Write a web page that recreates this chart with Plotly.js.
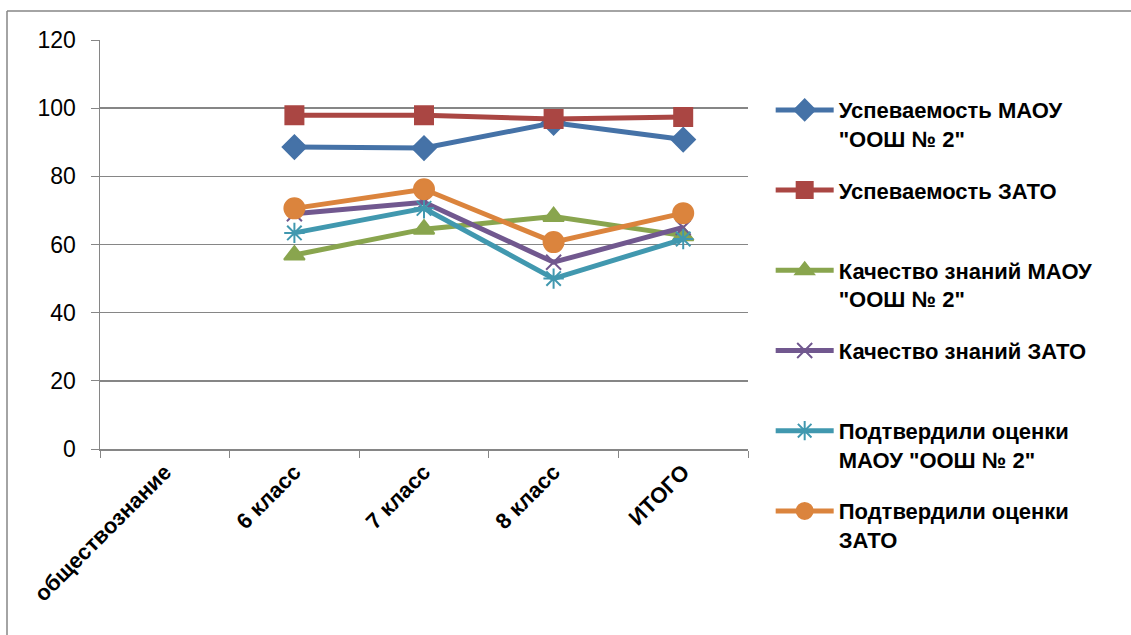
<!DOCTYPE html>
<html>
<head>
<meta charset="utf-8">
<script src="https://cdn.plot.ly/plotly-3.0.1.min.js"></script>
<style>html,body{margin:0;padding:0;background:#fff;overflow:hidden;}#chart{width:1131px;height:635px;}</style>
</head>
<body>
<div id="chart"></div>
<script>
var categories = ["обществознание", "6 класс", "7 класс", "8 класс", "ИТОГО"];
var seriesNames = [
  "Успеваемость МАОУ<br>\"ООШ № 2\"",
  "Успеваемость ЗАТО<br>\u00a0",
  "Качество знаний МАОУ<br>\"ООШ № 2\"",
  "Качество знаний ЗАТО<br>\u00a0",
  "Подтвердили оценки<br>МАОУ \"ООШ № 2\"",
  "Подтвердили оценки<br>ЗАТО"
];
var uspevMAOU = [null, 88.6, 88.3, 95.7, 90.8];
var uspevZATO = [null, 97.9, 97.9, 96.8, 97.4];
var kachMAOU = [null, 56.9, 64.5, 68.2, 62.6];
var kachZATO = [null, 69.0, 72.4, 54.8, 65.0];
var podtvMAOU = [null, 63.4, 70.6, 50.0, 61.6];
var podtvZATO = [null, 70.6, 76.2, 60.7, 69.2];

var seriesValues = [uspevMAOU, uspevZATO, kachMAOU, kachZATO, podtvMAOU, podtvZATO];
var colors = ["#4572A7", "#AA4643", "#89A54E", "#71588F", "#4198AF", "#DB843D"];
var symbols = ["diamond", "square", "triangle-up", "x-thin-open", "asterisk-open", "circle"];
var sizes = [18, 18, 18, 15, 17, 20];

var traces = seriesValues.map(function (vals, i) {
  return {
    type: "scatter",
    mode: "lines+markers",
    x: categories,
    y: vals,
    name: seriesNames[i],
    legendgroup: "g" + i,
    line: {color: colors[i], width: 5},
    marker: {symbol: symbols[i], size: sizes[i], color: colors[i], line: {color: colors[i], width: 2}},
    connectgaps: false
  };
});

var layout = {
  width: 1131,
  height: 635,
  margin: {l: 100, r: 383, t: 40, b: 186},
  paper_bgcolor: "#ffffff",
  plot_bgcolor: "#ffffff",
  font: {family: "Liberation Sans, Arial, sans-serif", color: "#000000"},
  showlegend: true,
  xaxis: {
    type: "category",
    range: [-0.5, 4.5],
    showline: true,
    linecolor: "#868686",
    linewidth: 1.5,
    ticks: "outside",
    tickson: "boundaries",
    ticklen: 7,
    tickcolor: "#868686",
    tickangle: -45,
    tickfont: {size: 22, family: "Liberation Sans, Arial, sans-serif", weight: "bold"},
    showgrid: false,
    zeroline: false,
    fixedrange: true
  },
  yaxis: {
    range: [0, 120],
    dtick: 20,
    showline: true,
    linecolor: "#868686",
    linewidth: 1.5,
    ticks: "outside",
    ticklen: 8,
    tickcolor: "#868686",
    ticklabelstandoff: 10,
    tickfont: {size: 23},
    showgrid: true,
    gridcolor: "#868686",
    gridwidth: 1.5,
    zeroline: false,
    fixedrange: true
  },
  legend: {
    x: 1.035,
    xanchor: "left",
    y: 0.88,
    yanchor: "top",
    valign: "top",
    tracegroupgap: 20,
    itemwidth: 58,
    maxheight: 620,
    font: {size: 22, weight: "bold"},
    bgcolor: "rgba(0,0,0,0)"
  },
  shapes: [
    {type: "line", xref: "paper", yref: "paper", x0: -93 / 648, x1: 1060 / 648, y0: 438 / 409, y1: 438 / 409,
     line: {color: "#868686", width: 1.5}, layer: "below"},
    {type: "line", xref: "paper", yref: "paper", x0: -93 / 648, x1: -93 / 648, y0: -190 / 409, y1: 438 / 409,
     line: {color: "#868686", width: 1.5}, layer: "below"}
  ]
};

Plotly.newPlot("chart", traces, layout, {displayModeBar: false, staticPlot: true});
</script>
</body>
</html>
